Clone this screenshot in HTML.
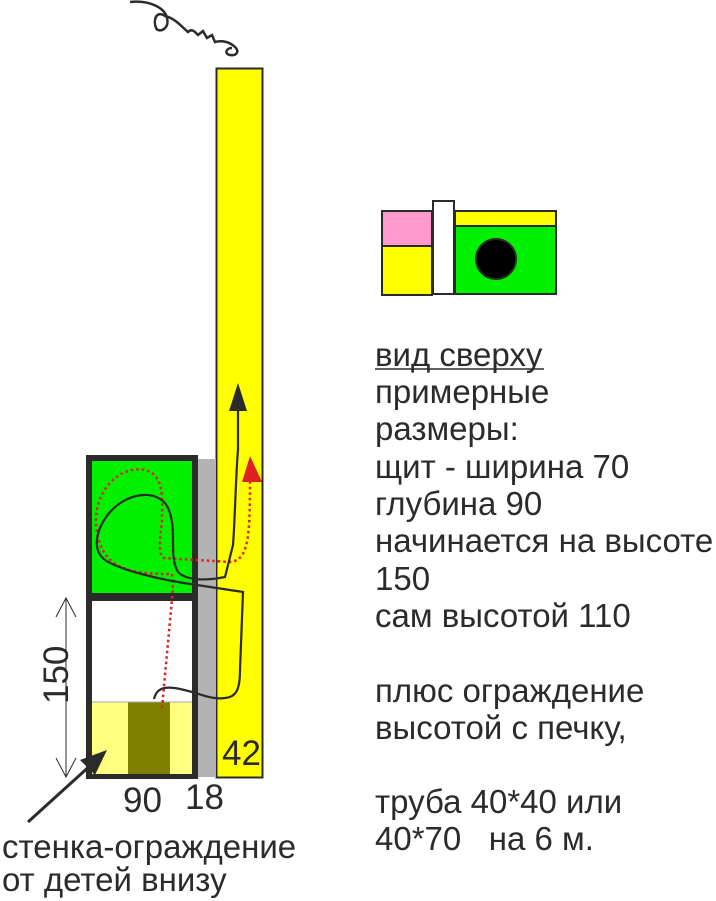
<!DOCTYPE html>
<html><head><meta charset="utf-8"><style>
body{margin:0;background:#fff;}
svg{display:block;}
text{font-family:"Liberation Sans",sans-serif;fill:#2b2b2b;}
</style></head><body>
<svg width="716" height="901" viewBox="0 0 716 901" xmlns="http://www.w3.org/2000/svg">
<path d="M130 2 C150 0 165 8 167 18 M167 18 C170 30 158 33 156 28 C153 20 156 10 165 16 C175 18 183 28 188 32 C192 28 195 32 198 35 L203 31 L207 38 L212 35 L215 42 C222 40 230 42 235 47 C240 52 236 56 230 55 C224 54 226 48 232 48" fill="none" stroke="#2b2b2b" stroke-width="2.5"/>
<rect x="216.5" y="68.5" width="46" height="709" fill="#ffff00" stroke="#2b2b2b" stroke-width="2"/>
<rect x="197" y="459" width="19" height="318" fill="#b3b3b3"/>
<rect x="89" y="458" width="106" height="138" fill="#00f000" stroke="#2b2b2b" stroke-width="6"/>
<rect x="89" y="598" width="106" height="178" fill="#fff" stroke="#2b2b2b" stroke-width="6"/>
<rect x="92" y="702" width="100" height="72" fill="#ffff80"/>
<rect x="128" y="702" width="42" height="72" fill="#808000"/>
<line x1="92" y1="702" x2="192" y2="702" stroke="#aaa" stroke-width="1"/>
<path d="M162 708 L173 588 L172 574 C130 574 100 570 96 525 C94 490 120 465 145 470 C165 475 162 500 162 520 C160 540 158 556 164 558 L230 562 C248 560 250 540 250 480" fill="none" stroke="#e02020" stroke-width="2.5" stroke-dasharray="2.5,3"/>
<polygon points="250,456 242,482 262,482" fill="#e02020"/>
<path d="M154 699 C156 690 162 685 180 689 C200 693 210 700 225 698 C236 697 240 690 240 670 L243 592 L197 585 C160 580 120 570 105 560 C92 550 95 530 110 512 C130 490 160 490 168 508 C178 530 168 555 178 572 C188 582 210 580 225 577 L233 545 C235 520 236 470 238 450 L238 400" fill="none" stroke="#2b2b2b" stroke-width="2.2"/>
<polygon points="238,383 229,411 247,411" fill="#2b2b2b"/>
<line x1="66" y1="598" x2="66" y2="777" stroke="#2b2b2b" stroke-width="1"/>
<path d="M56 617 L66 598 L76 617 M56 758 L66 777 L76 758" fill="none" stroke="#2b2b2b" stroke-width="1"/>
<text x="0" y="0" font-size="35" transform="translate(68,704) rotate(-90)">150</text>
<line x1="28" y1="822" x2="92" y2="764" stroke="#2b2b2b" stroke-width="3"/>
<polygon points="107,750 80,760 95,775" fill="#2b2b2b"/>
<text x="123" y="812" font-size="35">90</text>
<text x="185" y="809" font-size="35">18</text>
<text x="222" y="765" font-size="35">42</text>
<text x="2" y="858" font-size="33">стенка-ограждение</text>
<text x="2" y="891" font-size="33">от детей внизу</text>
<rect x="382" y="211" width="50" height="35" fill="#ff99cc" stroke="#2b2b2b" stroke-width="2"/>
<rect x="382" y="246" width="50" height="49" fill="#ffff00" stroke="#2b2b2b" stroke-width="2"/>
<rect x="433" y="201" width="21" height="93" fill="#fff" stroke="#2b2b2b" stroke-width="2"/>
<rect x="455" y="211" width="101" height="15" fill="#ffff00" stroke="#2b2b2b" stroke-width="2"/>
<rect x="455" y="226" width="101" height="68" fill="#00f000" stroke="#2b2b2b" stroke-width="2"/>
<circle cx="496" cy="259" r="20" fill="#000" stroke="#2b2b2b" stroke-width="2"/>
<g font-size="33">
<text x="375" y="366">вид сверху</text>
<line x1="375" y1="369" x2="544" y2="369" stroke="#2b2b2b" stroke-width="1.5"/>
<text x="375" y="403">примерные</text>
<text x="375" y="440">размеры:</text>
<text x="375" y="478">щит - ширина 70</text>
<text x="375" y="515">глубина 90</text>
<text x="375" y="552">начинается на высоте</text>
<text x="375" y="590">150</text>
<text x="375" y="627">сам высотой 110</text>
<text x="375" y="702">плюс ограждение</text>
<text x="375" y="739">высотой с печку,</text>
<text x="375" y="813">труба 40*40 или</text>
<text x="375" y="850" xml:space="preserve">40*70   на 6 м.</text>
</g>
</svg>
</body></html>
